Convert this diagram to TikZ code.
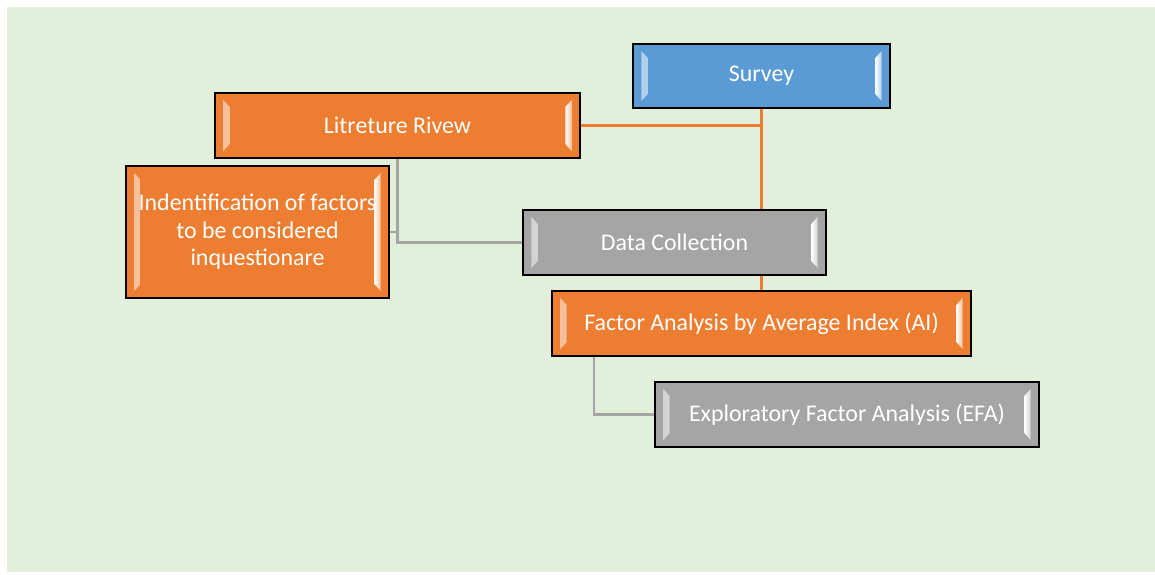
\documentclass[tikz,border=0pt]{standalone}
\usepackage{fontspec}
\setmainfont{Carlito}
\usepackage{tikz}

\definecolor{bggreen}{HTML}{E2EFDA}
\definecolor{boxorange}{HTML}{ED7D31}
\definecolor{boxblue}{HTML}{5B9BD5}
\definecolor{boxgray}{HTML}{A5A5A5}

\tikzset{
    bevelbox/.style={draw=black, line width=1.4pt, fill=#1, text=white, inner sep=0pt,
        font=\fontsize{17}{19.5}\selectfont, align=center,
        path picture={
            \shade[left color=#1!50!white, right color=white]
                ([xshift=6pt,yshift=-5pt]path picture bounding box.north west) -- ++(4.5pt,-5pt)
                -- ([xshift=10.5pt,yshift=10pt]path picture bounding box.south west) -- ++(-4.5pt,-5pt) -- cycle;
            \shade[right color=#1!50!white, left color=white]
                ([xshift=-6pt,yshift=-5pt]path picture bounding box.north east) -- ++(-4.5pt,-5pt)
                -- ([xshift=-10.5pt,yshift=10pt]path picture bounding box.south east) -- ++(4.5pt,-5pt) -- cycle;
        }},
    orangeline/.style={draw=boxorange, line width=2pt},
    grayline/.style={draw=boxgray, line width=2pt}
}

\begin{document}
\begin{tikzpicture}[x=0.025cm, y=-0.025cm]
                    \useasboundingbox (0, 0) rectangle (1155, 574);
                    \fill[bggreen](7, 7) rectangle (1155, 572);

                    \node [bevelbox=boxblue, minimum width=6.425cm, minimum height=1.6cm] (survey) at(761.5, 76) {Survey};
                    \node [bevelbox=boxorange, minimum width=9.125cm, minimum height=1.625cm] (lit) at(397.5, 125.5) {Litreture Rivew};
                    \node [bevelbox=boxorange, minimum width=6.575cm, minimum height=3.3cm] (ident) at(257.5, 232) {Indentification of factors\\to be considered\\inquestionare};
                    \node [bevelbox=boxgray, minimum width=7.575cm, minimum height=1.625cm] (data) at(674.5, 242.5) {Data Collection};
                    \node [bevelbox=boxorange, minimum width=10.475cm, minimum height=1.625cm] (ai) at(761.5, 323.5) {Factor Analysis by Average Index (AI)};
                    \node [bevelbox=boxgray, minimum width=9.6cm, minimum height=1.625cm] (efa) at(847, 414.5) {Exploratory Factor Analysis (EFA)};

                    \draw [orangeline](survey.south) -- (survey.south |- data.north);
                    \draw [orangeline](lit.east) -- (lit.east -| survey.south);
                    \draw [orangeline](ai.north) -- (ai.north |- data.south);

                    \draw [grayline](lit.south) |- (data.west);
                    \draw [grayline](ident.east) -| (lit.south);
                    \draw [grayline](ai.south west) ++(43, 0) |- (efa.west);
                    \end{tikzpicture}
\end{document}
